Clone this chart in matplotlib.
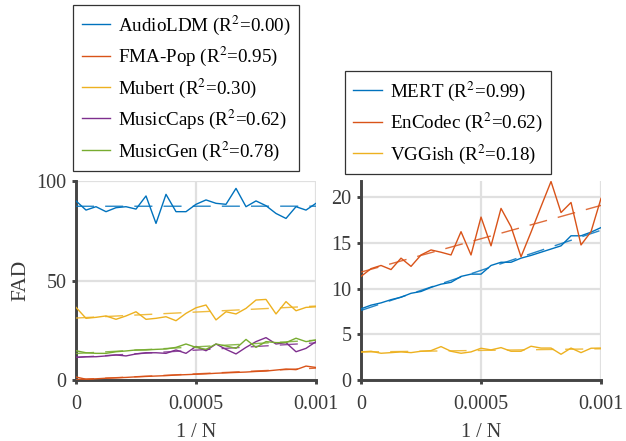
import numpy as np
import matplotlib
matplotlib.use("Agg")
import matplotlib.pyplot as plt

plt.rcParams["font.family"] = ["Liberation Serif", "DejaVu Serif"]
plt.rcParams["mathtext.fontset"] = "stix"

# 1/N values (25 evenly spaced points)
inv_n = np.linspace(0, 0.001, 25)

# left panel: generative sets
audioldm = [90.0, 85.4, 87.1, 84.6, 86.6, 87.1, 85.9, 92.5, 78.7, 93.3, 84.6, 84.6, 88.3,
            90.5, 88.8, 88.3, 96.3, 87.1, 90.0, 87.6, 83.7, 81.2, 87.1, 85.4, 88.8]
fma_pop = [1.5, 0.4, 0.6, 0.9, 1.1, 1.3, 1.6, 1.8, 2.0, 2.2, 2.5, 2.7, 2.9,
           3.1, 3.4, 3.6, 3.8, 4.0, 4.3, 4.5, 5.0, 5.5, 5.2, 7.0, 6.3]
mubert = [36.5, 31.0, 31.5, 32.2, 30.5, 32.2, 34.3, 30.5, 31.0, 31.8, 29.8, 33.5, 36.3,
          37.7, 30.2, 34.3, 33.2, 36.0, 40.2, 40.5, 33.2, 39.4, 34.8, 36.5, 36.8]
musiccaps = [11.4, 11.7, 11.7, 12.1, 12.6, 12.1, 13.1, 13.7, 13.7, 13.4, 15.1, 13.4, 16.9,
             14.7, 18.1, 15.4, 13.1, 16.4, 19.3, 21.3, 18.1, 18.8, 14.2, 15.9, 19.3]
musicgen = [14.7, 13.7, 13.4, 13.4, 14.2, 14.6, 15.1, 15.1, 15.4, 15.6, 16.4, 18.1, 16.4,
            15.4, 18.1, 17.1, 15.9, 20.4, 16.4, 19.3, 18.8, 18.8, 21.0, 19.3, 20.1]
left_names = ["AudioLDM", "FMA-Pop", "Mubert", "MusicCaps", "MusicGen"]
left_r2 = ["0.00", "0.95", "0.30", "0.62", "0.78"]

# right panel: embedding models
mert = [7.8, 8.2, 8.45, 8.8, 9.07, 9.5, 9.7, 10.15, 10.5, 10.7, 11.35, 11.6, 11.6,
        12.55, 12.9, 12.9, 13.35, 13.65, 14.0, 14.35, 14.7, 15.8, 15.8, 16.2, 16.7]
encodec = [11.35, 12.2, 12.55, 12.1, 13.35, 12.45, 13.7, 14.25, 14.0, 13.7, 16.25, 13.7, 17.85,
           14.7, 18.8, 16.8, 13.5, 16.2, 19.0, 21.75, 18.35, 19.45, 14.8, 16.25, 19.9]
vggish = [3.08, 3.15, 2.93, 3.0, 3.08, 3.0, 3.15, 3.22, 3.66, 3.15, 2.93, 3.08, 3.48,
          3.3, 3.55, 3.15, 3.15, 3.7, 3.5, 3.5, 2.82, 3.5, 3.0, 3.48, 3.5]
right_names = ["MERT", "EnCodec", "VGGish"]
right_r2 = ["0.99", "0.62", "0.18"]

colors = ["#0072BD", "#D95319", "#EDB120", "#7E2F8E", "#77AC30"]
spine_col = "#444444"
text_col = "#3a3a3a"
grid_col = "#e0e0e0"


def draw_panel(ax, series, names, r2s, ylim, yticks):
    handles = []
    for y, name, r2, c in zip(series, names, r2s, colors):
        h, = ax.plot(inv_n, y, color=c, lw=1.0, zorder=3,
                     label=f"{name} (R$^2$=" + r2 + ")")
        # linear fit, dashed
        k, b = np.polyfit(inv_n, y, 1)
        ax.plot(inv_n, k * inv_n + b, color=c, lw=1.0, alpha=0.85,
                dashes=(13, 8), zorder=3)
        handles.append(h)
    ax.set_xlim(0, 0.001)
    ax.set_ylim(*ylim)
    ax.set_xticks([0, 0.0005, 0.001])
    ax.set_xticklabels(["0", "0.0005", "0.001"])
    ax.set_yticks(yticks)
    ax.grid(True, color=grid_col, lw=1.6)
    ax.set_axisbelow(True)
    for s in ["top", "right"]:
        ax.spines[s].set_visible(False)
    for s in ["left", "bottom"]:
        ax.spines[s].set_color(spine_col)
        ax.spines[s].set_linewidth(2.1)
    ax.tick_params(direction="out", length=3, width=2.1, color=spine_col,
                   labelsize=14.5, labelcolor=text_col, pad=4)
    ax.tick_params(axis="x", pad=8)
    ax.set_xlabel("1 / N", fontsize=14.5, color=text_col, labelpad=6)
    return handles


fig = plt.figure(figsize=(6.26, 4.41), dpi=100)
ax1 = fig.add_axes([0.1214, 0.1383, 0.3834, 0.4512])
ax2 = fig.add_axes([0.5767, 0.1383, 0.3834, 0.4512])

h1 = draw_panel(ax1, [audioldm, fma_pop, mubert, musiccaps, musicgen],
                left_names, left_r2, (0, 100), [0, 50, 100])
h2 = draw_panel(ax2, [mert, encodec, vggish],
                right_names, right_r2, (0, 21.8), [0, 5, 10, 15, 20])
ax1.set_ylabel("FAD", fontsize=15.5, color=text_col, labelpad=4)

leg_kw = dict(fontsize=13.7, frameon=True, fancybox=False, edgecolor="black",
              handlelength=1.5, handletextpad=0.4, borderpad=0.45,
              labelspacing=0.42, borderaxespad=0)
l1 = fig.legend(handles=h1, loc="upper left", bbox_to_anchor=(0.117, 0.989), **leg_kw)
l2 = fig.legend(handles=h2, loc="upper left", bbox_to_anchor=(0.551, 0.839), **leg_kw)
for leg in (l1, l2):
    leg.get_frame().set_linewidth(0.9)
    for t in leg.get_texts():
        t.set_color("black")

fig.savefig("out.png", dpi=100)
plt.close(fig)
